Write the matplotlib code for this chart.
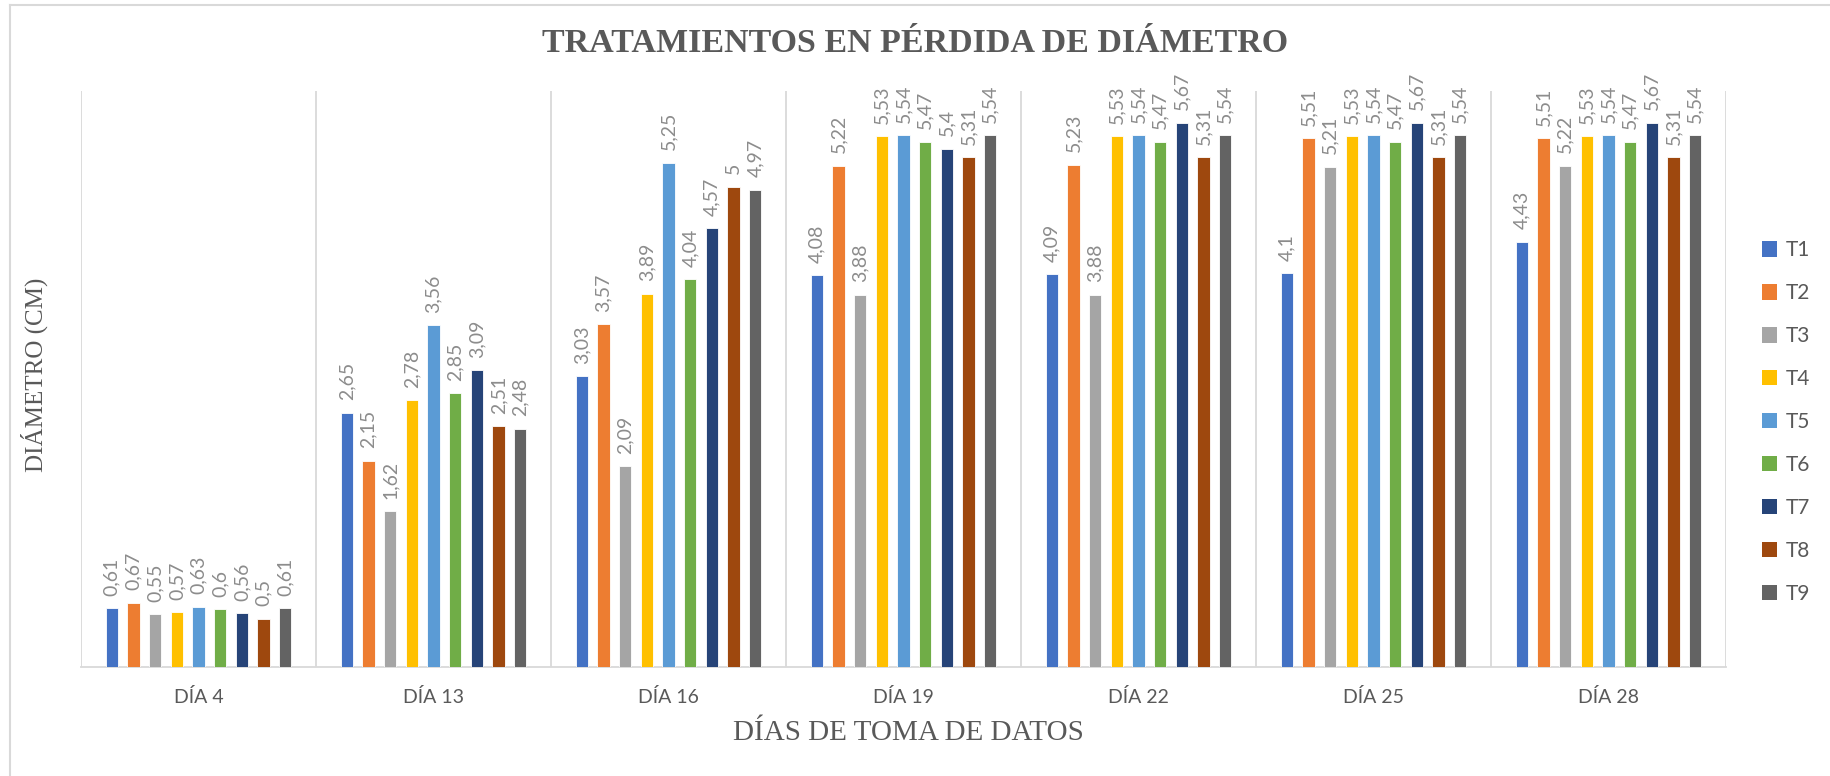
import numpy as np
import matplotlib
matplotlib.use("Agg")
import matplotlib.pyplot as plt
from matplotlib.lines import Line2D
from matplotlib.patches import Patch

# Datos
dias = ["DÍA 4", "DÍA 13", "DÍA 16", "DÍA 19", "DÍA 22", "DÍA 25", "DÍA 28"]
tratamientos = ["T1", "T2", "T3", "T4", "T5", "T6", "T7", "T8", "T9"]
t1 = [0.61, 2.65, 3.03, 4.08, 4.09, 4.10, 4.43]
t2 = [0.67, 2.15, 3.57, 5.22, 5.23, 5.51, 5.51]
t3 = [0.55, 1.62, 2.09, 3.88, 3.88, 5.21, 5.22]
t4 = [0.57, 2.78, 3.89, 5.53, 5.53, 5.53, 5.53]
t5 = [0.63, 3.56, 5.25, 5.54, 5.54, 5.54, 5.54]
t6 = [0.60, 2.85, 4.04, 5.47, 5.47, 5.47, 5.47]
t7 = [0.56, 3.09, 4.57, 5.40, 5.67, 5.67, 5.67]
t8 = [0.50, 2.51, 5.00, 5.31, 5.31, 5.31, 5.31]
t9 = [0.61, 2.48, 4.97, 5.54, 5.54, 5.54, 5.54]
series = [t1, t2, t3, t4, t5, t6, t7, t8, t9]

colores = ["#4472C4", "#ED7D31", "#A5A5A5", "#FFC000", "#5B9BD5",
           "#70AD47", "#264478", "#9E480E", "#636363"]

W, H = 1831, 776
fig = plt.figure(figsize=(W / 100, H / 100), dpi=100)
ax = fig.add_axes([81 / W, 1 - 667 / H, (1726 - 81) / W, (667 - 91) / H])

# Barras agrupadas
x = np.arange(len(dias))
paso = 0.0923
ancho = 0.052
for i, (vals, col) in enumerate(zip(series, colores)):
    pos = x + (i - 4) * paso
    ax.bar(pos, vals, width=ancho, color=col, edgecolor="white", linewidth=0.6, zorder=3)
    for px, v in zip(pos, vals):
        txt = f"{v:g}".replace(".", ",")
        ax.annotate(txt, (px, v), xytext=(0, 9), textcoords="offset points",
                    rotation=90, ha="center", va="bottom", fontsize=14,
                    family="Lato", color="#8C8C8C")

ax.set_xlim(-0.5, len(dias) - 0.5)
ax.set_ylim(0, 6)

# Separadores verticales entre categorias
for b in np.arange(-0.5, len(dias), 1.0):
    ax.axvline(b, color="#D9D9D9", linewidth=1.3, zorder=1)

for s in ["top", "right", "left"]:
    ax.spines[s].set_visible(False)
ax.spines["bottom"].set_color("#D9D9D9")
ax.spines["bottom"].set_linewidth(1.3)
ax.set_yticks([])
ax.set_xticks(x)
ax.set_xticklabels(dias, fontsize=14, family="Lato", color="#595959")
ax.tick_params(axis="x", length=0, pad=15)

# Titulos
fig.text(0.5, 1 - 44 / H, "TRATAMIENTOS EN PÉRDIDA DE DIÁMETRO", ha="center", va="center",
         fontsize=24.5, fontweight="bold", family="Liberation Serif", color="#595959")
fig.text(34 / W, 1 - 375 / H, "DIÁMETRO (CM)", rotation=90, ha="center", va="center",
         fontsize=18, family="Liberation Serif", color="#595959")
fig.text(908 / W, 1 - 733 / H, "DÍAS DE TOMA DE DATOS", ha="center", va="center",
         fontsize=21, family="Liberation Serif", color="#595959")

# Leyenda
handles = [Patch(facecolor=c, edgecolor="none") for c in colores]
leg = fig.legend(handles, tratamientos, loc="center left", bbox_to_anchor=(1743 / W, 1 - 422 / H),
                 frameon=False, prop={"family": "Lato", "size": 15}, labelcolor="#595959",
                 handlelength=0.75, handleheight=0.75, handletextpad=0.4, labelspacing=1.1)

# Borde exterior (solo izquierda y arriba visibles)
fig.add_artist(Line2D([10 / W, 10 / W], [0, 1 - 5 / H], color="#D9D9D9", linewidth=1.5))
fig.add_artist(Line2D([10 / W, 1], [1 - 5 / H, 1 - 5 / H], color="#D9D9D9", linewidth=1.5))

fig.savefig("out.png", dpi=100, facecolor="white")
